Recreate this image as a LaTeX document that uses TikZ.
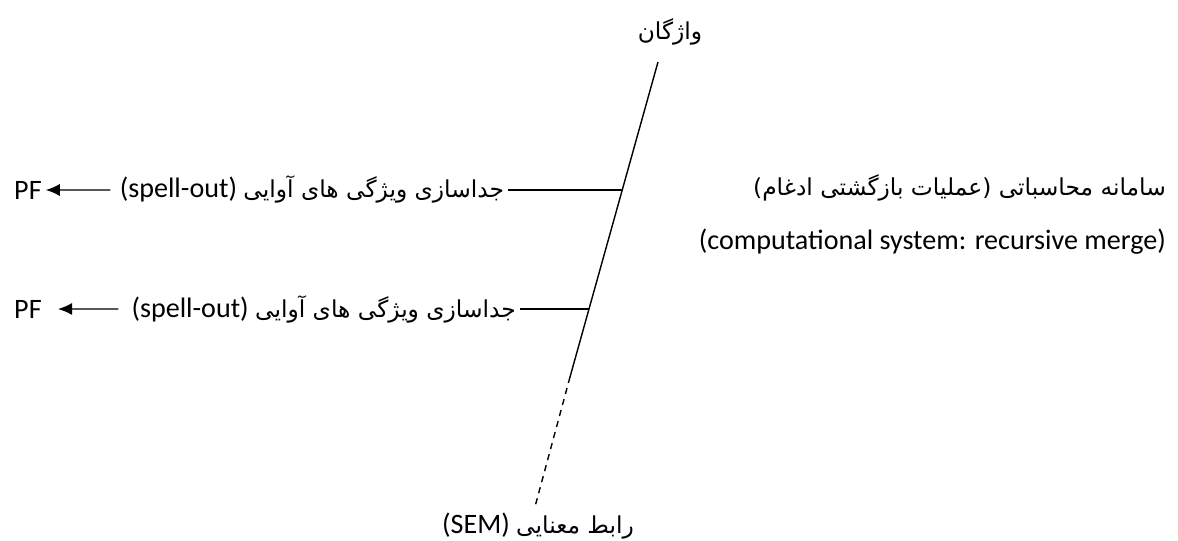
\documentclass[tikz,border=0pt]{standalone}
\usepackage{fontspec}
\setmainfont{Carlito}
\newfontfamily\farsi[Script=Arabic, Scale=0.83]{DejaVu Sans}
\TeXXeTstate=1
\usetikzlibrary{positioning, arrows.meta, calc}

\begin{document}
\begin{tikzpicture}[x=0.02cm, y=-0.02cm, line width=0.8pt, every node/.style={font=\fontsize{16}{19}\selectfont, inner sep=2pt}]
        \useasboundingbox (0,0) rectangle (1178,541);

        % Lexicon and the derivation line
        \node (Lex) at (670,32) {\farsi\beginR واژگان\endR};
        \coordinate (Top) at (658,62);
        \coordinate (Split) at (570,377);
        \node (Sem) at (538,526) {(SEM) {\farsi\beginR رابط معنایی\endR}};

        % Spell-out points
        \coordinate (J1) at ($(Top)!0.406!(Split)$);
        \coordinate (J2) at ($(Top)!0.784!(Split)$);
        \node (Spell1) [left=2.28cm of J1] {(spell-out) {\farsi\beginR جداسازی ویژگی های آوایی\endR}};
        \node (Spell2) [left=1.38cm of J2] {(spell-out) {\farsi\beginR جداسازی ویژگی های آوایی\endR}};
        \node (PF1) [anchor=west] at (10,190) {PF};
        \node (PF2) [anchor=west] at (10,309) {PF};

        % Computational system
        \node (Comp) [anchor=east] at (1170,188) {\farsi\beginR سامانه محاسباتی (عملیات بازگشتی ادغام)\endR};
        \node (CompEn) [anchor=east] at (1170,242) {(computational system: recursive merge)};

        % Lines
        \draw (Top) -- (Split);
        \draw[dash pattern=on 3.5pt off 3pt] (Split) -- ([xshift=-2pt]Sem.north);
        \draw (J1) -- (Spell1);
        \draw (J2) -- (Spell2);
        \draw[-{Latex[length=8pt, width=7pt]}, shorten <=3pt] (Spell1) -- (PF1);
        \draw[-{Latex[length=8pt, width=7pt]}, shorten <=5pt, shorten >=7pt] (Spell2) -- (PF2);
    \end{tikzpicture}
\end{document}
